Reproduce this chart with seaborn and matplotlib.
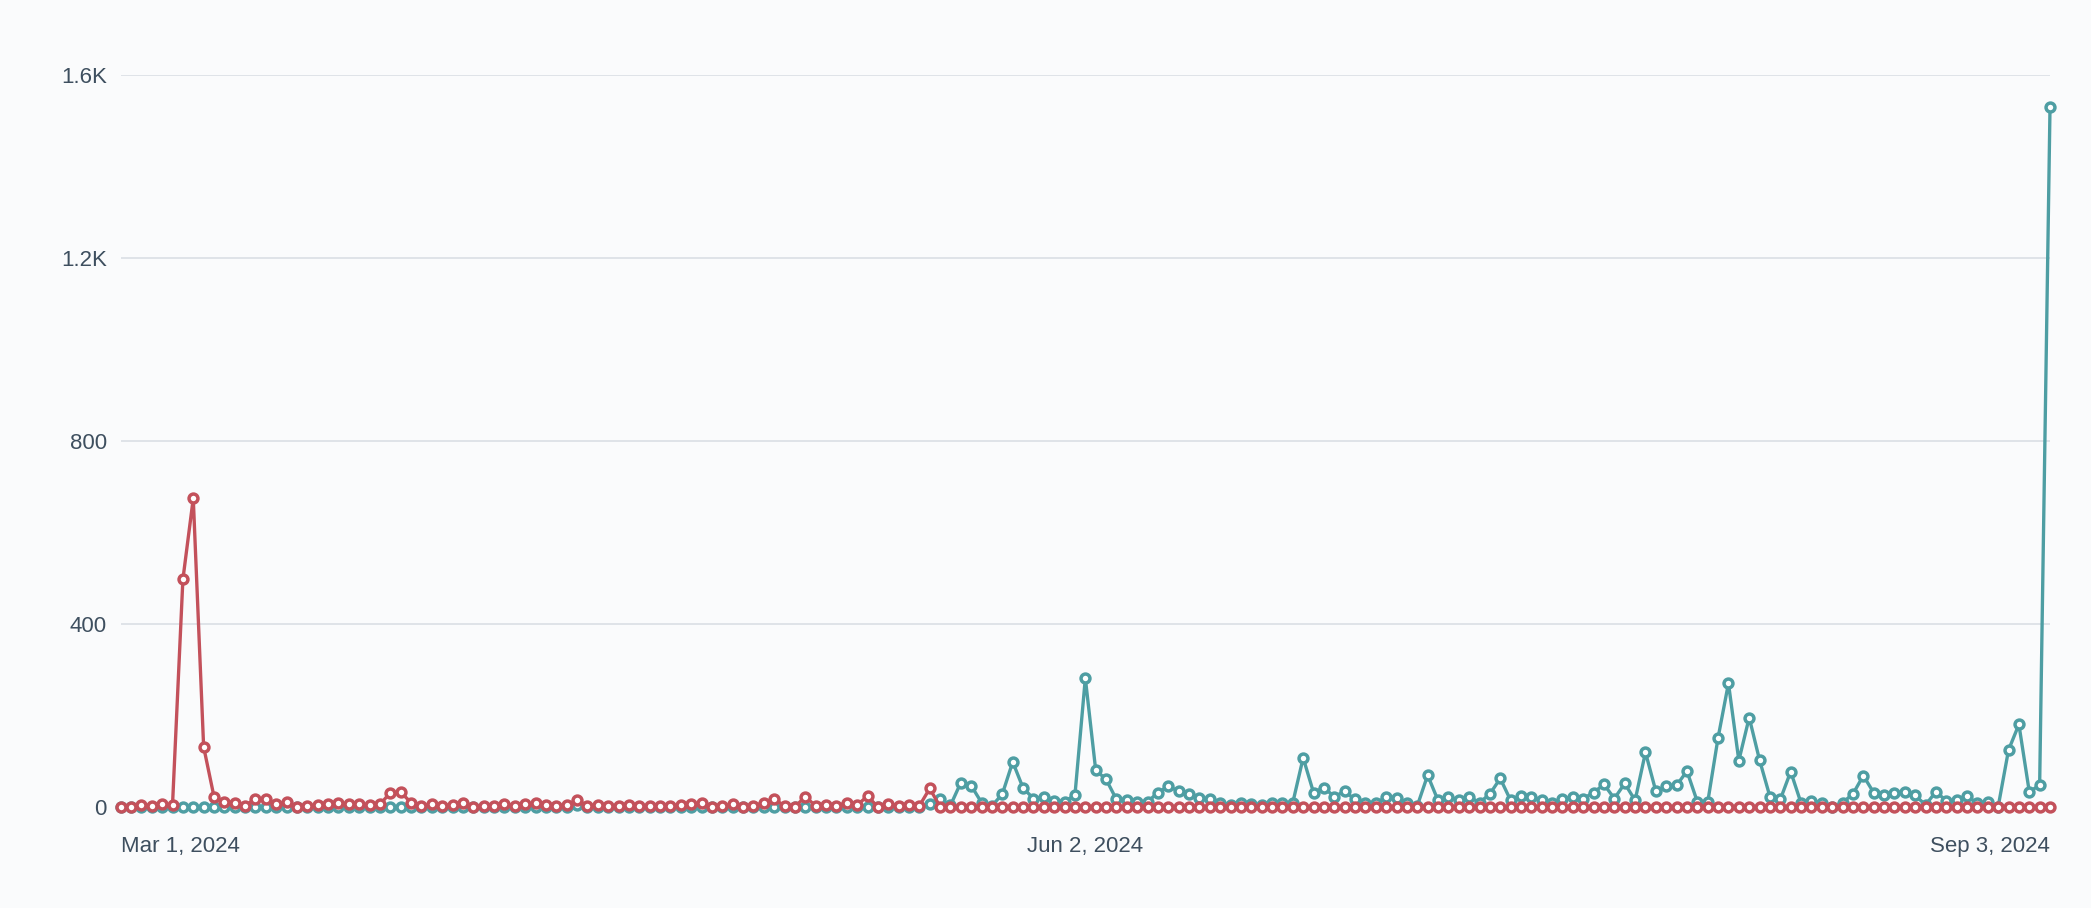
import numpy as np
import pandas as pd
import matplotlib
matplotlib.use("Agg")
import matplotlib.pyplot as plt
import seaborn as sns

# daily values, Mar 1 2024 .. Sep 3 2024
dates = pd.date_range("2024-03-01", "2024-09-03", freq="D")

red_head = [0, 0, 4, 2, 5, 4, 497, 674, 131, 22, 11, 9, 2, 18, 16, 5, 11, 0, 1, 3,
            5, 9, 5, 5, 3, 5, 31, 32, 9, 2, 5, 2, 4, 8, 0, 2, 2, 6, 2, 5,
            8, 4, 2, 4, 15, 2, 4, 2, 2, 4, 2, 2, 2, 2, 4, 5, 9, 0, 1, 5,
            0, 2, 9, 17, 2, 0, 22, 2, 4, 2, 9, 4, 23, 0, 6, 2, 4, 2, 40]
red_values = red_head + [0] * (len(dates) - len(red_head))

teal_head = [0] * 44 + [3] + [0] * 33
teal_tail = [5, 16, 3, 53, 46, 9, 2, 28, 98, 41, 18, 22, 13, 11, 26, 281, 80, 60, 16, 14,
             11, 11, 31, 45, 34, 28, 20, 16, 9, 4, 8, 6, 4, 8, 8, 9, 107, 31, 42, 22,
             34, 16, 9, 8, 21, 20, 9, 2, 69, 14, 22, 14, 22, 9, 28, 62, 14, 23, 22, 14,
             8, 16, 22, 18, 31, 49, 18, 51, 14, 119, 34, 45, 47, 78, 11, 10, 151, 270, 101, 195,
             102, 22, 16, 77, 8, 13, 9, 0, 9, 28, 68, 31, 25, 31, 32, 25, 4, 33, 13, 14,
             23, 8, 11, 0, 124, 180, 33, 47, 1530]
teal_values = teal_head + teal_tail

y_ticks = [0, 400, 800, 1200, 1600]
y_labels = ["0", "400", "800", "1.2K", "1.6K"]
x_label_dates = ["2024-03-01", "2024-06-02", "2024-09-03"]

teal = "#4e9ea3"
red = "#c3515b"
bg = "#fafbfc"
text_color = "#3e4f5f"

df = pd.DataFrame({"day": np.arange(len(dates)), "teal": teal_values, "red": red_values})

sns.set_theme(style="white")
plt.rcParams["font.family"] = ["Liberation Sans", "DejaVu Sans"]

fig = plt.figure(figsize=(20.91, 9.08), dpi=100, facecolor=bg)
ax = fig.add_axes([0.0577, 0.1024, 0.9227, 0.8153])
ax.set_facecolor(bg)

for col, color in [("teal", teal), ("red", red)]:
    sns.lineplot(data=df, x="day", y=col, ax=ax, color=color, marker="o",
                 markerfacecolor="white", markeredgecolor=color, clip_on=False)

# seaborn sets its own marker sizing, so fix it on the lines afterwards
for line in ax.lines:
    line.set_linewidth(2.4)
    line.set_markersize(6.4)
    line.set_markeredgewidth(2.5)
    line.set_clip_on(False)

ax.set_xlim(0, len(dates) - 1)
ax.set_ylim(-18, 1600)

ax.set_yticks(y_ticks, labels=y_labels)
ax.yaxis.grid(True, color="#dfe3e8", linewidth=1.4)
ax.xaxis.grid(False)
ax.set_axisbelow(True)

labels = []
for d in dates:
    labels.append(f"{d.strftime('%b')} {d.day}, {d.year}" if d.strftime("%Y-%m-%d") in x_label_dates else "")
ax.set_xticks(df["day"], labels=labels)
tl = ax.get_xticklabels()
tl[0].set_ha("left")
tl[-1].set_ha("right")

ax.tick_params(axis="x", length=5, width=1.4, color="#5b6b7b", pad=10,
               labelsize=16, labelcolor=text_color)
ax.tick_params(axis="y", length=0, pad=10, labelsize=16, labelcolor=text_color)

for s in ax.spines.values():
    s.set_visible(False)
ax.set_xlabel("")
ax.set_ylabel("")

fig.savefig("out.png", dpi=100, facecolor=bg)
